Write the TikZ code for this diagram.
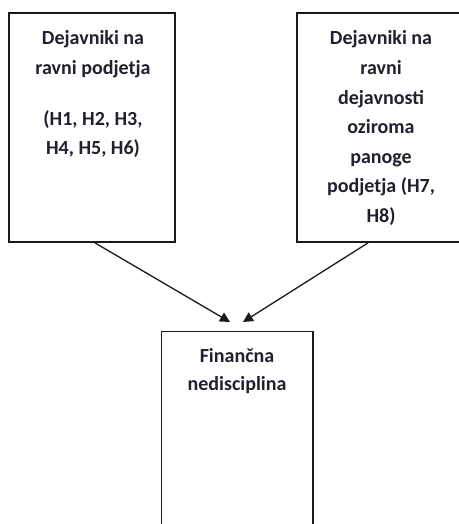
\documentclass[tikz,border=0pt]{standalone}
\usepackage{fontspec}
\setmainfont{Carlito}
\usetikzlibrary{arrows.meta,calc}
\definecolor{boxline}{HTML}{1A1A1A}
\definecolor{txt}{HTML}{20202E}
\begin{document}
\begin{tikzpicture}[x=1pt,y=-1pt,
  box/.style={draw=boxline,line width=1.8pt,fill=none,inner sep=0pt},
  lbl/.style={anchor=base,inner sep=0pt,text=txt,font=\fontsize{20}{24}\selectfont\bfseries},
  arr/.style={draw=boxline,line width=1.3pt,-{Triangle[length=10pt,width=10pt]}}]
\useasboundingbox (0,0) rectangle (458,524);
\fill[white] (0,0) rectangle (458,524);
% boxes
\node[box,minimum width=166pt,minimum height=229pt] (L) at (92,127.5) {};
\node[box,minimum width=168pt,minimum height=229pt] (R) at (381,127.5) {};
\node[box,minimum width=151.5pt,minimum height=210pt] (B) at (237.25,436.5) {};
% left texts
\node[lbl] (l1) at (93,45) {Dejavniki na};
\node[lbl] (l2) at (93,75) {ravni podjetja};
\node[lbl] (l3) at (93,125) {(H1, H2, H3,};
\node[lbl] (l4) at (93,154) {H4, H5, H6)};
% right texts
\node[lbl] (r1) at (381,45) {Dejavniki na};
\node[lbl] (r2) at (381,74.5) {ravni};
\node[lbl] (r3) at (381,104) {dejavnosti};
\node[lbl] (r4) at (381,133.5) {oziroma};
\node[lbl] (r5) at (381,163) {panoge};
\node[lbl] (r6) at (381,192.5) {podjetja (H7,};
\node[lbl] (r7) at (381,222) {H8)};
% bottom texts
\node[lbl] (b1) at (237,362) {Finančna};
\node[lbl] (b2) at (237,390) {nedisciplina};
% arrow end points
\coordinate (ls) at ($(L.south)+(3,0)$);
\coordinate (rs) at ($(R.south)+(-13,0)$);
\coordinate (lt) at (230,322);
\coordinate (rt) at (243,322);
\draw[arr] (ls) -- (lt);
\draw[arr] (rs) -- (rt);
\end{tikzpicture}
\end{document}
